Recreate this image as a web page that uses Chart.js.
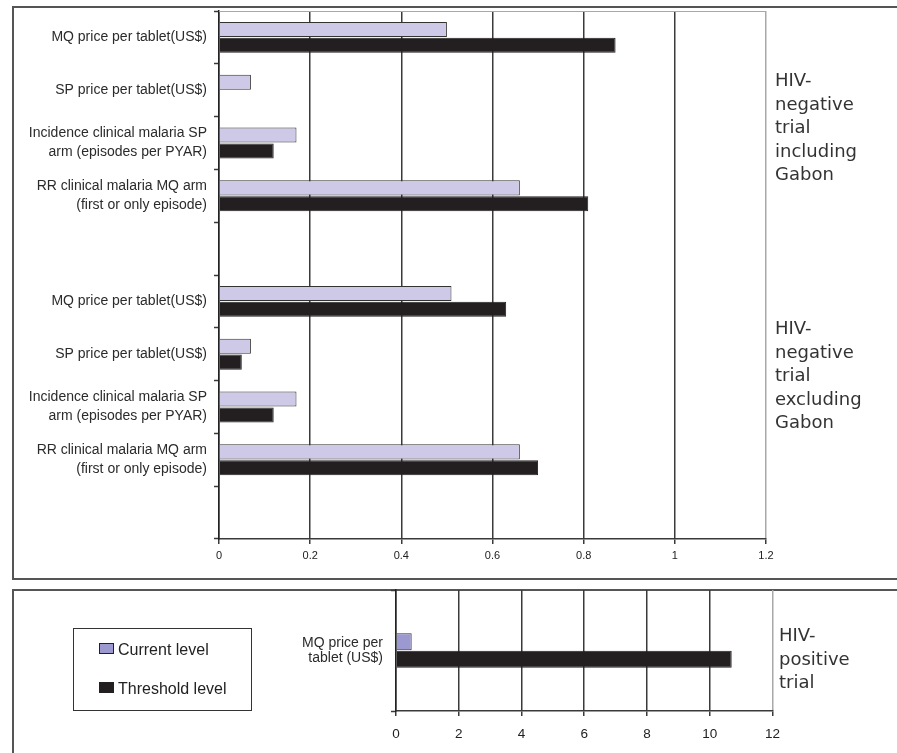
<!DOCTYPE html>
<html>
<head>
<meta charset="utf-8">
<script src="https://cdn.jsdelivr.net/npm/chart.js@4/dist/chart.umd.min.js"></script>
<style>
  html, body { margin: 0; padding: 0; background: #fff; width: 897px; height: 753px; overflow: hidden; position: relative; font-family: "Liberation Sans", Arial, sans-serif; }
  .box { position: absolute; border: 2px solid #555; box-sizing: border-box; }
  .wrap { position: absolute; }
  .group { position: absolute; font-family: "DejaVu Sans", Verdana, sans-serif; font-size: 18px; line-height: 23.5px; color: #333; }
  .legend { position: absolute; left: 73px; top: 628px; width: 179px; height: 83px; border: 1.5px solid #333; box-sizing: border-box; font-family: "Liberation Sans", Arial, sans-serif; font-size: 16px; color: #222; }
  .item { position: absolute; left: 25px; height: 18px; line-height: 18px; white-space: nowrap; }
  .sw { display: inline-block; width: 13px; height: 9px; border: 1px solid #222; margin-right: 4px; vertical-align: 1px; }
</style>
</head>
<body>
<div class="box" style="left:12px; top:6px; width:900px; height:574px;"></div>
<div class="box" style="left:12px; top:589px; width:900px; height:200px;"></div>

<div class="wrap" style="left:0; top:0; width:780px; height:575px;"><canvas id="top" width="780" height="575"></canvas></div>
<div class="wrap" style="left:0; top:580px; width:790px; height:173px;"><canvas id="bottom" width="790" height="173"></canvas></div>

<div class="group" style="left:775px; top:68px;">HIV-<br>negative<br>trial<br>including<br>Gabon</div>
<div class="group" style="left:775px; top:316px;">HIV-<br>negative<br>trial<br>excluding<br>Gabon</div>
<div class="group" style="left:779px; top:623px;">HIV-<br>positive<br>trial</div>

<div class="legend">
  <div class="item" style="top:12px;"><span class="sw" id="sw1"></span>Current level</div>
  <div class="item" style="top:51px;"><span class="sw" id="sw2"></span>Threshold level</div>
</div>

<script>
// ---- Data ----
const seriesNames = ['Current level', 'Threshold level'];
const negCategories = [
  'MQ price per tablet(US$)',
  'SP price per tablet(US$)',
  ['Incidence clinical malaria SP', 'arm (episodes per PYAR)'],
  ['RR clinical malaria MQ arm', '(first or only episode)']
];
const currentInclGabon   = [0.50, 0.07, 0.17, 0.66];
const thresholdInclGabon = [0.87, null, 0.12, 0.81];
const currentExclGabon   = [0.51, 0.07, 0.17, 0.66];
const thresholdExclGabon = [0.63, 0.05, 0.12, 0.70];

const posCategories = [['MQ price per', 'tablet (US$)']];
const currentPos   = [0.5];
const thresholdPos = [10.7];

const xTicksNeg = [0, 0.2, 0.4, 0.6, 0.8, 1, 1.2];
const xTicksPos = [0, 2, 4, 6, 8, 10, 12];

// ---- Styles ----
const currentColorTop = '#cdc9e7';
const currentColorBottom = '#9c99d1';
const thresholdColor = '#231f20';
const gridDark = '#3a3a3a';
const gridLight = '#a8a8a8';

document.getElementById('sw1').style.background = currentColorBottom;
document.getElementById('sw2').style.background = thresholdColor;

const topBorderPlugin = {
  id: 'topBorder',
  afterDraw(chart) {
    const a = chart.chartArea, c = chart.ctx;
    c.save();
    c.strokeStyle = gridLight;
    c.lineWidth = 1.2;
    c.beginPath();
    c.moveTo(a.left, a.top + 0.5);
    c.lineTo(a.right, a.top + 0.5);
    c.stroke();
    c.restore();
  }
};

function makeChart(id, opts) {
  const maxVal = opts.ticks[opts.ticks.length - 1];
  return new Chart(document.getElementById(id), {
    type: 'bar',
    data: {
      labels: opts.labels,
      datasets: [
        { label: seriesNames[0], data: opts.current, backgroundColor: opts.currentColor, borderColor: '#333', borderWidth: 1,
          categoryPercentage: opts.catPct, barPercentage: opts.barPct },
        { label: seriesNames[1], data: opts.threshold, backgroundColor: thresholdColor, borderColor: thresholdColor, borderWidth: 1,
          categoryPercentage: opts.catPct, barPercentage: opts.barPct }
      ]
    },
    options: {
      indexAxis: 'y',
      responsive: false,
      animation: false,
      devicePixelRatio: 1,
      layout: { padding: opts.padding },
      plugins: { legend: { display: false }, tooltip: { enabled: false } },
      scales: {
        x: {
          type: 'linear', min: 0, max: maxVal,
          afterFit(s) { s.height = opts.xHeight; },
          afterBuildTicks(s) { s.ticks = opts.ticks.map(v => ({ value: v })); },
          grid: {
            color: (ctx) => (ctx.tick && ctx.tick.value === maxVal) ? gridLight : gridDark,
            lineWidth: 1.5, drawTicks: true, tickLength: 5, tickColor: gridDark, tickWidth: 1.5
          },
          border: { display: true, color: gridDark, width: 1.5 },
          ticks: {
            color: '#222', padding: opts.xPad, maxRotation: 0, autoSkip: false,
            font: { family: '"Liberation Sans", Arial, sans-serif', size: opts.xFont },
            callback: (v) => String(+Number(v).toFixed(1))
          }
        },
        y: {
          type: 'category',
          afterFit(s) { s.width = opts.yWidth; s.paddingTop = 0; s.paddingBottom = 0; },
          grid: { offset: true, drawOnChartArea: false, drawTicks: true, tickLength: 5, tickColor: gridDark, tickWidth: 1.5 },
          border: { display: true, color: '#222', width: 1.5 },
          ticks: {
            color: '#2b2b2b', padding: opts.yPad, autoSkip: false,
            font: { family: '"Liberation Sans", Arial, sans-serif', size: opts.yFont, lineHeight: opts.yLine }
          }
        }
      }
    },
    plugins: opts.plugins || []
  });
}

makeChart('top', {
  labels: [...negCategories, '', ...negCategories, ''],
  current: [...currentInclGabon, null, ...currentExclGabon, null],
  threshold: [...thresholdInclGabon, null, ...thresholdExclGabon, null],
  currentColor: currentColorTop,
  ticks: xTicksNeg,
  catPct: 0.6, barPct: 0.95,
  padding: { top: 11, right: 14, bottom: 0, left: 0 },
  xHeight: 36, xPad: 5, xFont: 11,
  yWidth: 219, yPad: 7, yFont: 14, yLine: 1.36,
  plugins: [topBorderPlugin]
});

makeChart('bottom', {
  labels: posCategories,
  current: currentPos,
  threshold: thresholdPos,
  currentColor: currentColorBottom,
  ticks: xTicksPos,
  catPct: 0.29, barPct: 0.97,
  padding: { top: 10, right: 16, bottom: 0, left: 0 },
  xHeight: 42, xPad: 10, xFont: 13.5,
  yWidth: 396, yPad: 8, yFont: 14, yLine: 1.05
});
</script>
</body>
</html>
